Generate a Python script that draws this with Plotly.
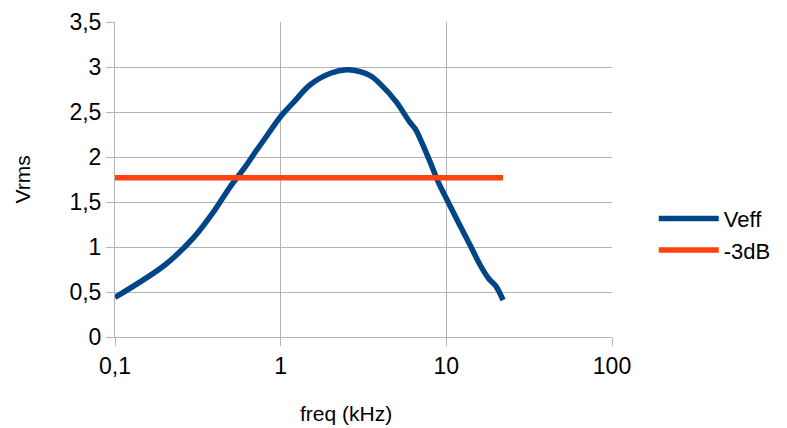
import plotly.graph_objects as go

# Data
freq_khz = [0.1, 0.2, 0.3, 0.4, 0.5, 0.6, 0.7, 0.8, 1, 1.2, 1.5, 2, 2.5, 3, 3.5, 4,
            5, 6, 6.5, 7, 8, 9, 10, 12, 14, 16, 18, 20, 22]
veff = [0.44, 0.80, 1.11, 1.41, 1.68, 1.87, 2.05, 2.20, 2.45, 2.61, 2.80, 2.93, 2.97, 2.95, 2.90, 2.81,
        2.61, 2.39, 2.31, 2.19, 1.94, 1.71, 1.54, 1.25, 1.01, 0.80, 0.65, 0.56, 0.41]
minus3db_x = [0.1, 22]
minus3db_y = [1.77, 1.77]

x_tickvals = [0.1, 1, 10, 100]
x_ticktext = ["0,1", "1", "10", "100"]

BLUE = "#004586"
RED = "#ff420e"
GRID = "#b3b3b3"
FONT = "Liberation Sans"

fig = go.Figure()
fig.add_trace(go.Scatter(x=freq_khz, y=veff, mode="lines", name="Veff",
                         line=dict(color=BLUE, width=5.5, shape="spline", smoothing=0.9)))
fig.add_trace(go.Scatter(x=minus3db_x, y=minus3db_y, mode="lines", name="-3dB",
                         line=dict(color=RED, width=5.5)))

fig.update_layout(
    width=787, height=428,
    margin=dict(l=115, r=175, t=22, b=91, autoexpand=False),
    paper_bgcolor="white", plot_bgcolor="white",
    separators=", ",
    font=dict(family=FONT, size=22, color="#000000"),
    showlegend=True,
    legend=dict(x=1.084, y=0.325, xanchor="left", yanchor="middle",
                font=dict(family=FONT, size=22, color="#000000"),
                itemwidth=60, bgcolor="rgba(0,0,0,0)"),
    xaxis=dict(type="log", range=[-1, 2], tickvals=x_tickvals, ticktext=x_ticktext,
               showgrid=True, gridcolor=GRID, gridwidth=1,
               showline=True, linecolor=GRID, linewidth=1,
               ticks="outside", ticklen=8, tickcolor=GRID,
               tickfont=dict(family=FONT, size=23, color="#000000"),
               zeroline=False, automargin=False),
    yaxis=dict(range=[0, 3.5], dtick=0.5, tick0=0,
               showgrid=True, gridcolor=GRID, gridwidth=1,
               showline=True, linecolor=GRID, linewidth=1,
               ticks="outside", ticklen=8, tickcolor=GRID,
               tickfont=dict(family=FONT, size=23, color="#000000"),
               zeroline=False, automargin=False),
    annotations=[
        dict(text="freq (kHz)", xref="paper", yref="paper", x=0.465, y=-0.243,
             xanchor="center", yanchor="middle", showarrow=False,
             font=dict(family=FONT, size=21, color="#000000")),
        dict(text="Vrms", xref="paper", yref="paper", x=-0.187, y=0.5,
             xanchor="center", yanchor="middle", showarrow=False, textangle=-90,
             font=dict(family=FONT, size=21, color="#000000")),
    ],
)

fig.write_html("out.html", config={"displayModeBar": False},
               post_script="document.body.style.margin='0px';document.body.style.overflow='hidden';")
